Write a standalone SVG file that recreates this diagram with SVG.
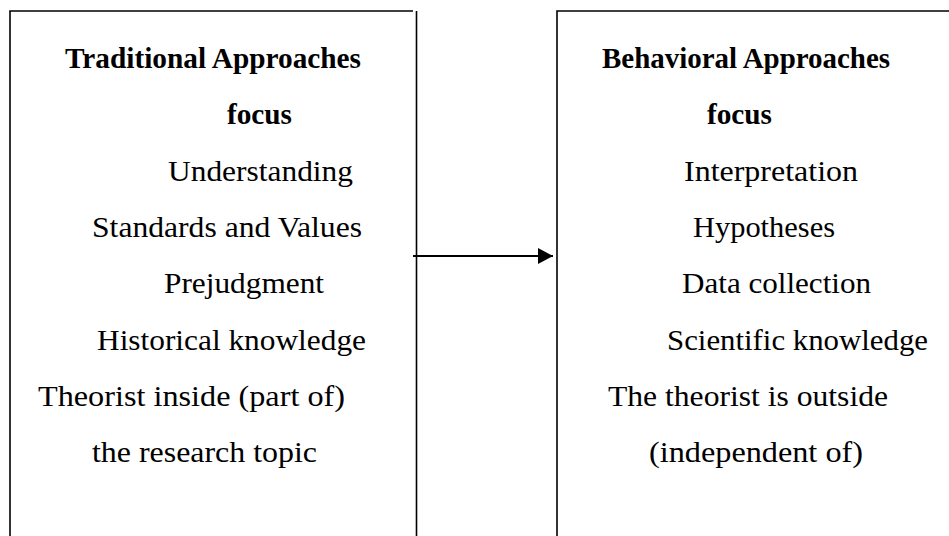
<svg xmlns="http://www.w3.org/2000/svg" width="949" height="536" viewBox="0 0 949 536">
  <style>
    .frame { fill: none; stroke: #000; stroke-width: 1.6; }
    .head { font-family: "Liberation Serif", "Times New Roman", serif; font-size: 30px; font-weight: bold; fill: #000; }
    .item { font-family: "Liberation Serif", "Times New Roman", serif; font-size: 30px; fill: #000; }
    .conn { fill: none; stroke: #000; stroke-width: 2; }
  </style>
  <defs>
    <marker id="arrowhead" markerWidth="8" markerHeight="8" refX="7.5" refY="4" orient="auto" markerUnits="strokeWidth">
      <path d="M0,0 L7.5,4 L0,8 Z" fill="#000"/>
    </marker>
  </defs>
  <rect width="949" height="536" fill="#fff"/>

  <!-- Left panel: traditional approaches (box runs past the bottom edge) -->
  <g id="traditional">
    <path class="frame" d="M10,545 V11 H413 M416.5,11 V545"/>
    <text class="head" x="65" y="68" textLength="296" lengthAdjust="spacingAndGlyphs">Traditional Approaches</text>
    <text class="head" x="227" y="124" textLength="65" lengthAdjust="spacingAndGlyphs">focus</text>
    <text class="item" x="168" y="181" textLength="185" lengthAdjust="spacingAndGlyphs">Understanding</text>
    <text class="item" x="92" y="237" textLength="270" lengthAdjust="spacingAndGlyphs">Standards and Values</text>
    <text class="item" x="164" y="293" textLength="160" lengthAdjust="spacingAndGlyphs">Prejudgment</text>
    <text class="item" x="97" y="350" textLength="269" lengthAdjust="spacingAndGlyphs">Historical knowledge</text>
    <text class="item" x="38" y="406" textLength="307" lengthAdjust="spacingAndGlyphs">Theorist inside (part of)</text>
    <text class="item" x="92" y="462" textLength="225" lengthAdjust="spacingAndGlyphs">the research topic</text>
  </g>

  <!-- Right panel: behavioral approaches (box runs past the right and bottom edges) -->
  <g id="behavioral">
    <path class="frame" d="M557,545 V11 H955"/>
    <text class="head" x="602" y="68" textLength="288" lengthAdjust="spacingAndGlyphs">Behavioral Approaches</text>
    <text class="head" x="707" y="124" textLength="65" lengthAdjust="spacingAndGlyphs">focus</text>
    <text class="item" x="684" y="181" textLength="174" lengthAdjust="spacingAndGlyphs">Interpretation</text>
    <text class="item" x="693" y="237" textLength="142" lengthAdjust="spacingAndGlyphs">Hypotheses</text>
    <text class="item" x="682" y="293" textLength="189" lengthAdjust="spacingAndGlyphs">Data collection</text>
    <text class="item" x="667" y="350" textLength="261" lengthAdjust="spacingAndGlyphs">Scientific knowledge</text>
    <text class="item" x="608" y="406" textLength="280" lengthAdjust="spacingAndGlyphs">The theorist is outside</text>
    <text class="item" x="649" y="462" textLength="214" lengthAdjust="spacingAndGlyphs">(independent of)</text>
  </g>

  <!-- Connector between the two panels -->
  <g id="connectors">
    <line class="conn" x1="413" y1="256" x2="553" y2="256" marker-end="url(#arrowhead)"/>
  </g>
</svg>
